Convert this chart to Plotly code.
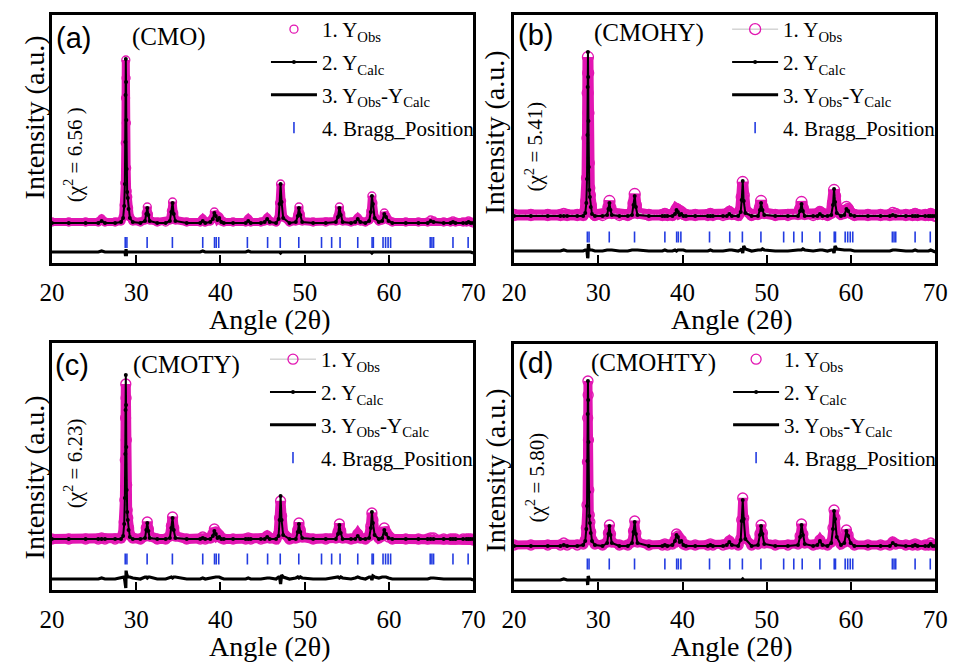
import plotly.graph_objects as go

# ---------------- data ----------------
two_theta = [
    20.0, 22.0, 24.0, 25.5, 25.9, 26.3, 27.5, 28.2,
    28.45, 28.58, 28.66, 28.71, 28.74, 28.77, 28.80, 28.83, 28.87, 28.93, 29.00, 29.10, 29.25, 29.6,
    30.5, 31.05, 31.2, 31.32, 31.45, 31.6, 32.5,
    33.5, 34.0, 34.18, 34.32, 34.46, 34.65,
    36.0, 37.6, 37.9, 38.2, 38.8, 39.1, 39.28, 39.45, 39.65, 39.85, 40.1, 40.4,
    41.5, 43.0, 43.3, 43.6, 44.8, 45.25, 45.55, 45.85,
    46.6, 46.9, 47.02, 47.14, 47.26, 47.45, 48.2,
    48.95, 49.18, 49.32, 49.48, 49.7, 51.0,
    52.5, 53.7, 53.95, 54.12, 54.28, 54.5, 55.5,
    56.0, 56.3, 56.6, 57.2, 57.65, 57.85, 57.98, 58.1, 58.3, 58.8,
    59.2, 59.45, 59.65, 59.95, 60.4, 62.0, 63.5,
    64.6, 64.95, 65.3, 66.5, 67.3, 67.6, 67.9, 68.8, 69.2, 69.45, 69.7, 70.0,
]

obs_a = [
    41, 41, 41, 41, 44, 41, 41, 42,
    46, 58, 80, 120, 165, 203, 185, 140, 95, 72, 66, 55, 46, 42,
    41, 43, 50, 56, 49, 43, 41,
    41, 43, 52, 61, 50, 43,
    41, 41, 44, 41, 42, 45, 51, 48, 44, 46, 42, 41,
    41, 41, 44, 41, 41, 42, 45, 42,
    41, 45, 60, 79, 62, 46, 41,
    42, 48, 56, 49, 42, 41,
    41, 42, 47, 56, 49, 42, 41,
    42, 45, 42, 41, 43, 52, 67, 60, 46, 42,
    43, 50, 47, 43, 41, 41, 41,
    41, 43, 42, 41, 41, 42, 41, 41, 41, 42, 41, 40,
]
calc_a = [
    40, 40, 40, 40, 42, 40, 40, 41,
    45, 57, 79, 121, 168, 204, 181, 143, 94, 71, 65, 54, 45, 41,
    40, 42, 49, 55, 48, 42, 40,
    40, 42, 51, 60, 49, 42,
    40, 40, 42, 40, 41, 44, 50, 47, 43, 45, 41, 40,
    40, 40, 42, 40, 40, 41, 44, 41,
    40, 44, 59, 79, 61, 45, 40,
    41, 47, 55, 48, 41, 40,
    40, 41, 46, 55, 48, 41, 40,
    41, 44, 41, 40, 42, 51, 67, 59, 45, 41,
    42, 49, 46, 42, 40, 40, 40,
    40, 42, 41, 40, 40, 41, 40, 40, 40, 41, 40, 40,
]

obs_b = [
    48, 48, 48, 48, 49, 48, 48, 48,
    52, 62, 85, 125, 170, 206, 190, 150, 100, 75, 68, 58, 51, 48,
    48, 50, 56, 62, 55, 50, 48,
    48, 50, 60, 69, 58, 50,
    48, 48, 49, 48, 48, 51, 54, 53, 50, 51, 49, 48,
    48, 48, 49, 48, 48, 49, 51, 49,
    48, 53, 66, 81, 68, 53, 48,
    49, 55, 62, 56, 50, 48,
    48, 49, 54, 61, 55, 49, 48,
    49, 51, 49, 48, 50, 60, 73, 67, 53, 49,
    50, 56, 54, 50, 48, 48, 48,
    48, 50, 49, 48, 48, 49, 48, 48, 48, 49, 48, 47,
]
calc_b = [
    47, 47, 47, 47, 47, 47, 47, 47,
    50, 60, 84, 128, 176, 211, 186, 142, 96, 73, 66, 56, 49, 47,
    47, 48, 54, 60, 53, 48, 47,
    47, 48, 58, 67, 56, 48,
    47, 47, 47, 47, 47, 49, 53, 51, 48, 49, 47, 47,
    47, 47, 47, 47, 47, 47, 49, 47,
    47, 51, 63, 82, 62, 50, 47,
    47, 53, 60, 53, 48, 47,
    47, 47, 52, 59, 52, 47, 47,
    47, 49, 47, 47, 48, 58, 74, 61, 50, 47,
    48, 54, 52, 48, 47, 47, 47,
    47, 48, 47, 47, 47, 47, 47, 47, 47, 47, 47, 47,
]

obs_c = [
    51, 51, 51, 51, 52, 51, 51, 52,
    56, 68, 90, 130, 172, 206, 192, 150, 105, 80, 72, 62, 55, 52,
    51, 54, 62, 68, 61, 54, 51,
    51, 54, 64, 73, 62, 54,
    51, 51, 53, 51, 52, 56, 61, 58, 54, 55, 52, 51,
    51, 51, 52, 51, 51, 52, 54, 52,
    51, 56, 72, 89, 74, 57, 51,
    52, 60, 67, 60, 53, 51,
    51, 52, 58, 66, 59, 52, 51,
    52, 56, 52, 51, 54, 64, 77, 70, 57, 52,
    54, 62, 58, 53, 51, 51, 51,
    51, 52, 52, 51, 51, 51, 51, 51, 51, 51, 51, 50,
]
calc_c = [
    51, 51, 51, 51, 51, 51, 51, 51,
    54, 66, 92, 136, 180, 215, 185, 143, 100, 78, 70, 60, 53, 51,
    51, 52, 60, 67, 59, 52, 51,
    51, 52, 62, 72, 60, 52,
    51, 51, 52, 51, 51, 54, 59, 56, 52, 53, 51, 51,
    51, 51, 51, 51, 51, 51, 53, 51,
    51, 54, 70, 94, 70, 55, 51,
    51, 58, 66, 58, 52, 51,
    51, 51, 56, 65, 57, 51, 51,
    51, 54, 51, 51, 52, 62, 78, 67, 55, 51,
    52, 60, 56, 52, 51, 51, 51,
    51, 51, 51, 51, 51, 51, 51, 51, 51, 51, 51, 51,
]

obs_d = [
    45, 45, 45, 45, 47, 45, 45, 46,
    50, 62, 85, 128, 172, 209, 195, 150, 100, 75, 68, 58, 50, 46,
    45, 48, 57, 65, 56, 48, 45,
    45, 48, 59, 69, 57, 48,
    45, 45, 46, 45, 46, 50, 56, 54, 49, 50, 46, 45,
    45, 45, 46, 45, 45, 46, 49, 46,
    45, 51, 70, 92, 72, 52, 45,
    46, 56, 65, 57, 47, 45,
    45, 46, 54, 66, 56, 47, 45,
    46, 50, 46, 45, 48, 62, 80, 72, 54, 46,
    48, 60, 55, 48, 45, 45, 45,
    45, 48, 46, 45, 45, 46, 45, 45, 45, 47, 45, 45,
]
calc_d = [
    44, 44, 44, 44, 45, 44, 44, 45,
    49, 61, 84, 129, 176, 209, 190, 148, 98, 74, 67, 57, 49, 45,
    44, 47, 56, 64, 55, 47, 44,
    44, 47, 58, 68, 56, 47,
    44, 44, 45, 44, 45, 49, 55, 53, 48, 49, 45, 44,
    44, 44, 45, 44, 44, 45, 48, 45,
    44, 50, 69, 90, 71, 51, 44,
    45, 55, 64, 56, 46, 44,
    44, 45, 53, 65, 55, 46, 44,
    45, 49, 45, 44, 47, 61, 79, 71, 53, 45,
    47, 59, 54, 47, 44, 44, 44,
    44, 47, 45, 44, 44, 45, 44, 44, 44, 46, 44, 44,
]

bragg_positions = [28.7, 28.9, 31.3, 34.3, 37.9, 39.3, 39.5, 39.8, 43.2, 45.6, 47.1,
                   49.3, 52.0, 53.2, 54.2, 56.3, 58.0, 58.15, 59.3, 59.6, 59.9, 60.2,
                   64.9, 65.1, 65.3, 67.6, 69.4]

panel_labels = ["(a)", "(b)", "(c)", "(d)"]
sample_names = ["(CMO)", "(CMOHY)", "(CMOTY)", "(CMOHTY)"]
chi_values = ["6.56 ", "5.41", "6.23", "5.80"]
series_names = ["1. Y<sub>Obs</sub>", "2. Y<sub>Calc</sub>",
                "3. Y<sub>Obs</sub>-Y<sub>Calc</sub>", "4. Bragg_Position"]
x_ticks = [20, 30, 40, 50, 60, 70]

obs_all = [obs_a, obs_b, obs_c, obs_d]
calc_all = [calc_a, calc_b, calc_c, calc_d]

# ---------------- style / layout ----------------
W, H = 960, 663
MAG = "rgb(226,22,178)"
BLUE = "rgb(35,60,225)"
SERIF = "Liberation Serif, Times New Roman, serif"
SANS = "Liberation Sans, Arial, sans-serif"


def fx(px):
    return px / W


def fy(py):
    return 1 - py / H


panels = [
    dict(x0=40, x1=473, y0=15, y1=263, ytop=248, diff_off=10, bragg_y=20.5,
         band=8, msize=8, legline=False, leg=(260, 9), int_xy=(22, 117), chi_xy=(62, 155),
         lab_xy=(62, 38), name_xy=(160, 37)),
    dict(x0=515, x1=948, y0=15, y1=263, ytop=248, diff_off=11, bragg_y=26,
         band=11, msize=11, legline=True, leg=(734, 9), int_xy=(495, 133), chi_xy=(535, 147),
         lab_xy=(537, 35), name_xy=(654, 33)),
    dict(x0=40, x1=473, y0=343, y1=590, ytop=247, diff_off=11, bragg_y=31,
         band=10, msize=10, legline=True, leg=(259, 339), int_xy=(22, 477), chi_xy=(62, 463),
         lab_xy=(61, 365), name_xy=(178, 365)),
    dict(x0=515, x1=948, y0=344, y1=590, ytop=246, diff_off=9, bragg_y=26,
         band=9, msize=10, legline=False, leg=(735, 339), int_xy=(495, 471), chi_xy=(537, 477),
         lab_xy=(537, 363), name_xy=(658, 363)),
]

fig = go.Figure()
layout = dict(width=W, height=H, margin=dict(l=0, r=0, t=0, b=0),
              paper_bgcolor="white", plot_bgcolor="white", showlegend=True,
              font=dict(family=SERIF, color="black"))
annotations = []

for i, p in enumerate(panels):
    sfx = "" if i == 0 else str(i + 1)
    xa, ya = "x" + sfx, "y" + sfx
    leg = "legend" + sfx
    obs = obs_all[i]
    calc = calc_all[i]
    diff = [p["diff_off"] + (o - c) for o, c in zip(obs, calc)]

    # thick band produced by the dense observed circles
    fig.add_trace(go.Scatter(x=two_theta, y=obs, mode="lines", xaxis=xa, yaxis=ya,
                             line=dict(color=MAG, width=p["band"]), showlegend=False,
                             hoverinfo="skip"))
    fig.add_trace(go.Scatter(
        x=two_theta, y=obs, mode="lines+markers" if p["legline"] else "markers",
        xaxis=xa, yaxis=ya, name=series_names[0], legend=leg, legendgroup=f"{i}obs",
        line=dict(color="rgb(190,190,190)", width=1),
        marker=dict(symbol="circle-open", size=p["msize"], color=MAG, line=dict(width=1.3))))
    fig.add_trace(go.Scatter(
        x=two_theta, y=calc, mode="lines+markers", xaxis=xa, yaxis=ya,
        name=series_names[1], legend=leg, legendgroup=f"{i}calc",
        line=dict(color="black", width=2), marker=dict(size=4, color="black")))
    fig.add_trace(go.Scatter(
        x=two_theta, y=diff, mode="lines", xaxis=xa, yaxis=ya,
        name=series_names[2], legend=leg, legendgroup=f"{i}diff",
        line=dict(color="black", width=3.2)))
    fig.add_trace(go.Scatter(
        x=bragg_positions, y=[p["bragg_y"]] * len(bragg_positions), mode="markers",
        xaxis=xa, yaxis=ya, name=series_names[3], legend=leg, legendgroup=f"{i}bragg",
        marker=dict(symbol="line-ns", size=8, color=BLUE, line=dict(color=BLUE, width=1.6))))

    layout["xaxis" + sfx] = dict(
        domain=[fx(p["x0"]), fx(p["x1"])], anchor=ya, range=[20, 70],
        tickvals=x_ticks, ticktext=[str(t) for t in x_ticks],
        ticks="inside", ticklen=8, tickwidth=2, tickcolor="black",
        showline=True, linewidth=3, linecolor="black", mirror=True,
        showgrid=False, zeroline=False, ticklabelstandoff=5,
        tickfont=dict(family=SERIF, size=25, color="black"))
    layout["yaxis" + sfx] = dict(
        domain=[fy(p["y1"]), fy(p["y0"])], anchor=xa, range=[0, p["ytop"]],
        showticklabels=False, ticks="", showline=True, linewidth=3, linecolor="black",
        mirror=True, showgrid=False, zeroline=False)
    layout[leg] = dict(
        x=fx(p["leg"][0]), y=fy(p["leg"][1]), xanchor="left", yanchor="top",
        bgcolor="rgba(0,0,0,0)", borderwidth=0, tracegroupgap=2.5, itemwidth=46,
        font=dict(family=SERIF, size=21, color="black"), traceorder="grouped")

    cx = (p["x0"] + p["x1"]) / 2
    annotations += [
        dict(text="Angle (2θ)", x=fx(cx + 8), y=fy(p["y1"] + 56), xref="paper", yref="paper",
             showarrow=False, font=dict(family=SERIF, size=28), xanchor="center", yanchor="middle"),
        dict(text="Intensity (a.u.)", x=fx(p["int_xy"][0]), y=fy(p["int_xy"][1]), xref="paper",
             yref="paper", showarrow=False, textangle=-90, font=dict(family=SERIF, size=28),
             xanchor="center", yanchor="middle"),
        dict(text=f"(χ<sup>2</sup> = {chi_values[i]})", x=fx(p["chi_xy"][0]), y=fy(p["chi_xy"][1]),
             xref="paper", yref="paper", showarrow=False, textangle=-90,
             font=dict(family=SERIF, size=21), xanchor="center", yanchor="middle"),
        dict(text=panel_labels[i], x=fx(p["lab_xy"][0]), y=fy(p["lab_xy"][1]), xref="paper",
             yref="paper", showarrow=False, font=dict(family=SANS, size=29),
             xanchor="center", yanchor="middle"),
        dict(text=sample_names[i], x=fx(p["name_xy"][0]), y=fy(p["name_xy"][1]), xref="paper",
             yref="paper", showarrow=False, font=dict(family=SERIF, size=25),
             xanchor="center", yanchor="middle"),
    ]

layout["annotations"] = annotations
fig.update_layout(**layout)
fig.write_html("out.html", config={"displayModeBar": False},
               post_script="document.body.style.margin='0px';")
